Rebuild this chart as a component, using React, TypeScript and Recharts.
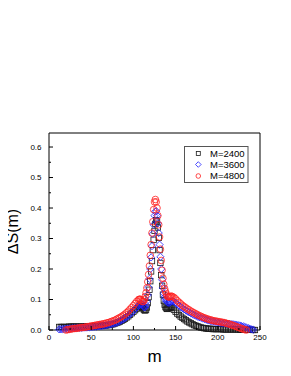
import React from 'react';
import { ScatterChart, Scatter, XAxis, YAxis } from 'recharts';

const FONT = "'Liberation Sans', Arial, Helvetica, sans-serif";

// tick values
const xTicks = [0, 25, 50, 75, 100, 125, 150, 175, 200, 225, 250];
const xMajor = [0, 50, 100, 150, 200, 250];
const yTicks = [0, 0.05, 0.1, 0.15, 0.2, 0.25, 0.3, 0.35, 0.4, 0.45, 0.5, 0.55, 0.6];
const yMajor = [0, 0.1, 0.2, 0.3, 0.4, 0.5, 0.6];

const seriesNames = ['M=2400', 'M=3600', 'M=4800'];

// M=2400 : [m, ΔS(m)]
const data2400: [number, number][] = [
  [12, 0.010], [14, 0.010], [16, 0.010], [18, 0.010], [20, 0.010], [22, 0.010], [24, 0.011], [26, 0.011], [28, 0.011], [30, 0.011],
  [32, 0.011], [34, 0.011], [36, 0.011], [38, 0.011], [40, 0.011], [42, 0.012], [44, 0.012], [46, 0.012], [48, 0.012], [50, 0.012],
  [52, 0.012], [54, 0.012], [56, 0.013], [58, 0.013], [60, 0.013], [62, 0.014], [64, 0.014], [66, 0.015], [68, 0.015], [70, 0.016],
  [72, 0.017], [74, 0.018], [76, 0.019], [78, 0.021], [80, 0.023], [82, 0.025], [84, 0.027], [86, 0.030], [88, 0.033], [90, 0.037],
  [92, 0.041], [94, 0.045], [96, 0.050], [98, 0.055], [100, 0.060], [102, 0.065], [104, 0.070], [106, 0.074],
  [107, 0.076], [108, 0.078], [109, 0.078], [110, 0.076], [111, 0.072], [112, 0.068], [113, 0.065], [114, 0.064], [115, 0.066], [116, 0.074],
  [117, 0.088], [118, 0.108], [119, 0.132], [120, 0.160], [121, 0.192], [122, 0.226], [123, 0.262], [124, 0.296], [125, 0.325], [126, 0.348],
  [127, 0.360], [128, 0.356], [129, 0.336], [130, 0.302], [131, 0.262], [132, 0.220], [133, 0.180], [134, 0.145], [135, 0.116], [136, 0.096],
  [137, 0.083], [138, 0.075], [139, 0.071], [140, 0.069], [141, 0.070], [142, 0.072], [143, 0.074], [144, 0.075], [145, 0.075], [146, 0.073],
  [148, 0.066], [150, 0.060], [152, 0.054], [154, 0.049], [156, 0.044], [158, 0.040], [160, 0.036], [162, 0.032], [164, 0.028], [166, 0.025],
  [168, 0.022], [170, 0.019], [172, 0.016], [174, 0.014], [176, 0.012], [178, 0.010], [180, 0.008], [182, 0.007], [184, 0.006], [186, 0.005],
  [188, 0.004], [190, 0.004], [192, 0.004], [194, 0.003], [196, 0.003], [198, 0.003], [200, 0.003], [202, 0.003], [204, 0.003], [206, 0.002],
  [208, 0.002], [210, 0.002], [212, 0.002], [214, 0.002], [216, 0.002], [218, 0.002], [220, 0.002], [222, 0.002], [224, 0.002], [226, 0.001],
  [228, 0.001], [230, 0.001], [232, 0.001], [234, 0.001], [236, 0.001], [238, 0.001], [240, 0.001], [242, 0.000], [244, 0.000],
];

// M=3600 : [m, ΔS(m)]
const data3600: [number, number][] = [
  [12, 0.002], [14, 0.002], [16, 0.003], [18, 0.003], [20, 0.004], [22, 0.004], [24, 0.005], [26, 0.005], [28, 0.006], [30, 0.006],
  [32, 0.006], [34, 0.007], [36, 0.007], [38, 0.007], [40, 0.008], [42, 0.008], [44, 0.008], [46, 0.009], [48, 0.009], [50, 0.010],
  [52, 0.010], [54, 0.011], [56, 0.011], [58, 0.012], [60, 0.013], [62, 0.013], [64, 0.014], [66, 0.015], [68, 0.016], [70, 0.017],
  [72, 0.018], [74, 0.019], [76, 0.021], [78, 0.022], [80, 0.024], [82, 0.026], [84, 0.029], [86, 0.032], [88, 0.035], [90, 0.039],
  [92, 0.043], [94, 0.047], [96, 0.052], [98, 0.057], [100, 0.062], [102, 0.068], [104, 0.074], [106, 0.080],
  [107, 0.082], [108, 0.084], [109, 0.086], [110, 0.085], [111, 0.082], [112, 0.077], [113, 0.074], [114, 0.075], [115, 0.082], [116, 0.095],
  [117, 0.115], [118, 0.140], [119, 0.168], [120, 0.200], [121, 0.238], [122, 0.275], [123, 0.315], [124, 0.345], [125, 0.375], [126, 0.388],
  [127, 0.390], [128, 0.375], [129, 0.350], [130, 0.318], [131, 0.280], [132, 0.240], [133, 0.200], [134, 0.165], [135, 0.138], [136, 0.120],
  [137, 0.108], [138, 0.100], [139, 0.095], [140, 0.092], [141, 0.090], [142, 0.089], [143, 0.090], [144, 0.092], [145, 0.094], [146, 0.095],
  [148, 0.093], [150, 0.089], [152, 0.085], [154, 0.080], [156, 0.076], [158, 0.072], [160, 0.068], [162, 0.065], [164, 0.061], [166, 0.058],
  [168, 0.055], [170, 0.052], [172, 0.049], [174, 0.047], [176, 0.044], [178, 0.042], [180, 0.040], [182, 0.038], [184, 0.036], [186, 0.034],
  [188, 0.032], [190, 0.031], [192, 0.029], [194, 0.028], [196, 0.027], [198, 0.026], [200, 0.025], [202, 0.024], [204, 0.023], [206, 0.022],
  [208, 0.022], [210, 0.021], [212, 0.020], [214, 0.020], [216, 0.019], [218, 0.019], [220, 0.018], [222, 0.017], [224, 0.016], [226, 0.015],
  [228, 0.013], [230, 0.012], [232, 0.010], [234, 0.008], [236, 0.006], [238, 0.004], [240, 0.002], [242, 0.001],
];

// M=4800 : [m, ΔS(m)]
const data4800: [number, number][] = [
  [20, 0.000], [22, 0.001], [24, 0.002], [26, 0.003], [28, 0.004], [30, 0.005], [32, 0.005], [34, 0.006], [36, 0.007], [38, 0.008],
  [40, 0.008], [42, 0.009], [44, 0.010], [46, 0.011], [48, 0.012], [50, 0.013], [52, 0.014], [54, 0.015], [56, 0.016], [58, 0.017],
  [60, 0.018], [62, 0.019], [64, 0.020], [66, 0.021], [68, 0.023], [70, 0.024], [72, 0.026], [74, 0.028], [76, 0.030], [78, 0.032],
  [80, 0.035], [82, 0.038], [84, 0.041], [86, 0.044], [88, 0.048], [90, 0.052], [92, 0.057], [94, 0.062], [96, 0.068], [98, 0.074],
  [100, 0.080], [102, 0.087], [104, 0.094], [106, 0.099],
  [107, 0.101], [108, 0.101], [109, 0.099], [110, 0.095], [111, 0.093], [112, 0.094], [113, 0.100], [114, 0.110], [115, 0.122], [116, 0.138],
  [117, 0.158], [118, 0.182], [119, 0.210], [120, 0.245], [121, 0.280], [122, 0.318], [123, 0.355], [124, 0.395], [125, 0.420], [126, 0.428],
  [127, 0.420], [128, 0.400], [129, 0.375], [130, 0.345], [131, 0.305], [132, 0.265], [133, 0.228], [134, 0.196], [135, 0.170], [136, 0.150],
  [137, 0.136], [138, 0.126], [139, 0.118], [140, 0.112], [141, 0.109], [142, 0.108], [143, 0.109], [144, 0.110], [145, 0.111], [146, 0.110],
  [148, 0.107], [150, 0.102], [152, 0.096], [154, 0.091], [156, 0.086], [158, 0.081], [160, 0.077], [162, 0.073], [164, 0.069], [166, 0.066],
  [168, 0.062], [170, 0.059], [172, 0.056], [174, 0.053], [176, 0.050], [178, 0.047], [180, 0.045], [182, 0.042], [184, 0.040], [186, 0.038],
  [188, 0.036], [190, 0.034], [192, 0.033], [194, 0.031], [196, 0.030], [198, 0.029], [200, 0.028], [202, 0.027], [204, 0.026], [206, 0.025],
  [208, 0.024], [210, 0.022], [212, 0.021], [214, 0.019], [216, 0.017], [218, 0.015], [220, 0.013], [222, 0.011], [224, 0.009], [226, 0.007],
  [228, 0.005], [230, 0.003], [232, 0.001], [234, 0.000],
];

const toPoints = (arr: [number, number][]) => arr.map(([m, s]) => ({ m, s }));

const BLACK = '#1a1a1a';
const BLUE = '#2020ff';
const RED = '#ff2020';

const SquareShape = (p: any) => (
  <rect x={p.cx - 2.7} y={p.cy - 2.7} width={5.4} height={5.4} fill="none" stroke={BLACK} strokeWidth={0.8} />
);
const DiamondShape = (p: any) => (
  <path
    d={`M${p.cx},${p.cy - 3.6}L${p.cx + 3.6},${p.cy}L${p.cx},${p.cy + 3.6}L${p.cx - 3.6},${p.cy}Z`}
    fill="none"
    stroke={BLUE}
    strokeWidth={0.8}
  />
);
const CircleShape = (p: any) => (
  <circle cx={p.cx} cy={p.cy} r={3.3} fill="none" stroke={RED} strokeWidth={0.8} />
);

const near = (v: number, list: number[]) => list.some((t) => Math.abs(t - v) < 1e-9);

// plot box (chart coords)
const PL = 41;
const PR = 252;
const PT = 125;
const PB = 322;

const BottomTick = (props: any) => {
  const { x, payload } = props;
  const major = near(payload.value, xMajor);
  return (
    <g>
      <line x1={x} x2={x} y1={PB} y2={PB - (major ? 4 : 2)} stroke="#000" strokeWidth={1} />
      {major && (
        <text x={x} y={PB + 9.5} textAnchor="middle" fontSize={8} fontFamily={FONT} fill="#000">
          {payload.value}
        </text>
      )}
    </g>
  );
};
const TopTick = (props: any) => {
  const { x, payload } = props;
  const major = near(payload.value, xMajor);
  return <line x1={x} x2={x} y1={PT} y2={PT + (major ? 4 : 2)} stroke="#000" strokeWidth={1} />;
};
const LeftTick = (props: any) => {
  const { y, payload } = props;
  const major = near(payload.value, yMajor);
  return (
    <g>
      <line x1={PL} x2={PL + (major ? 4 : 2)} y1={y} y2={y} stroke="#000" strokeWidth={1} />
      {major && (
        <text x={PL - 7.5} y={y + 2.9} textAnchor="end" fontSize={8} fontFamily={FONT} fill="#000">
          {payload.value.toFixed(1)}
        </text>
      )}
    </g>
  );
};
const RightTick = (props: any) => {
  const { y, payload } = props;
  const major = near(payload.value, yMajor);
  return <line x1={PR} x2={PR - (major ? 4 : 2)} y1={y} y2={y} stroke="#000" strokeWidth={1} />;
};

const Legend = () => {
  const rows = [
    { name: seriesNames[0], cy: 7.5, kind: 's' },
    { name: seriesNames[1], cy: 18.5, kind: 'd' },
    { name: seriesNames[2], cy: 30, kind: 'c' },
  ];
  const mx = 14.3;
  return (
    <svg width={65} height={38} style={{ position: 'absolute', left: 176, top: 138 }}>
      <rect x={0.5} y={0.5} width={63.5} height={36} fill="#fff" stroke="#555" strokeWidth={1} />
      {rows.map((r) => (
        <g key={r.name}>
          {r.kind === 's' && (
            <rect x={mx - 2} y={r.cy - 2} width={4} height={4} fill="none" stroke={BLACK} strokeWidth={0.8} />
          )}
          {r.kind === 'd' && (
            <path
              d={`M${mx},${r.cy - 2.8}L${mx + 2.8},${r.cy}L${mx},${r.cy + 2.8}L${mx - 2.8},${r.cy}Z`}
              fill="none"
              stroke={BLUE}
              strokeWidth={0.8}
            />
          )}
          {r.kind === 'c' && <circle cx={mx} cy={r.cy} r={2.3} fill="none" stroke={RED} strokeWidth={0.8} />}
          <text x={26} y={r.cy + 3.4} fontSize={9.5} fontFamily={FONT} fill="#000">
            {r.name}
          </text>
        </g>
      ))}
    </svg>
  );
};

export default function App() {
  return (
    <div style={{ position: 'relative', width: 283, height: 368 }}>
      <ScatterChart width={283} height={368} margin={{ top: 105, right: 11, bottom: 26, left: 11 }}>
        <XAxis
          xAxisId="b"
          dataKey="m"
          type="number"
          domain={[0, 250]}
          ticks={xTicks}
          interval={0}
          height={20}
          tickLine={false}
          tick={<BottomTick />}
          axisLine={{ stroke: '#000', strokeWidth: 1 }}
          label={() => (
            <text x={146.5} y={354} textAnchor="middle" fontSize={17} fontFamily={FONT} fill="#000">
              m
            </text>
          )}
        />
        <XAxis
          xAxisId="t"
          orientation="top"
          dataKey="m"
          type="number"
          domain={[0, 250]}
          ticks={xTicks}
          interval={0}
          height={20}
          tickLine={false}
          tick={<TopTick />}
          axisLine={{ stroke: '#000', strokeWidth: 1 }}
        />
        <YAxis
          yAxisId="l"
          dataKey="s"
          type="number"
          domain={[0, 0.646]}
          ticks={yTicks}
          interval={0}
          width={30}
          tickLine={false}
          tick={<LeftTick />}
          axisLine={{ stroke: '#000', strokeWidth: 1 }}
          label={() => (
            <text
              x={10}
              y={223.5}
              transform="rotate(-90 10 223.5)"
              textAnchor="middle"
              fontSize={16}
              fontFamily={FONT}
              fill="#000"
            >
              ΔS(m)
            </text>
          )}
        />
        <YAxis
          yAxisId="r"
          orientation="right"
          dataKey="s"
          type="number"
          domain={[0, 0.646]}
          ticks={yTicks}
          interval={0}
          width={20}
          tickLine={false}
          tick={<RightTick />}
          axisLine={{ stroke: '#000', strokeWidth: 1 }}
        />
        <Scatter
          name={seriesNames[0]}
          data={toPoints(data2400)}
          xAxisId="b"
          yAxisId="l"
          shape={SquareShape}
          isAnimationActive={false}
        />
        <Scatter
          name={seriesNames[1]}
          data={toPoints(data3600)}
          xAxisId="b"
          yAxisId="l"
          shape={DiamondShape}
          isAnimationActive={false}
        />
        <Scatter
          name={seriesNames[2]}
          data={toPoints(data4800)}
          xAxisId="b"
          yAxisId="l"
          shape={CircleShape}
          isAnimationActive={false}
        />
      </ScatterChart>
      <Legend />
    </div>
  );
}
